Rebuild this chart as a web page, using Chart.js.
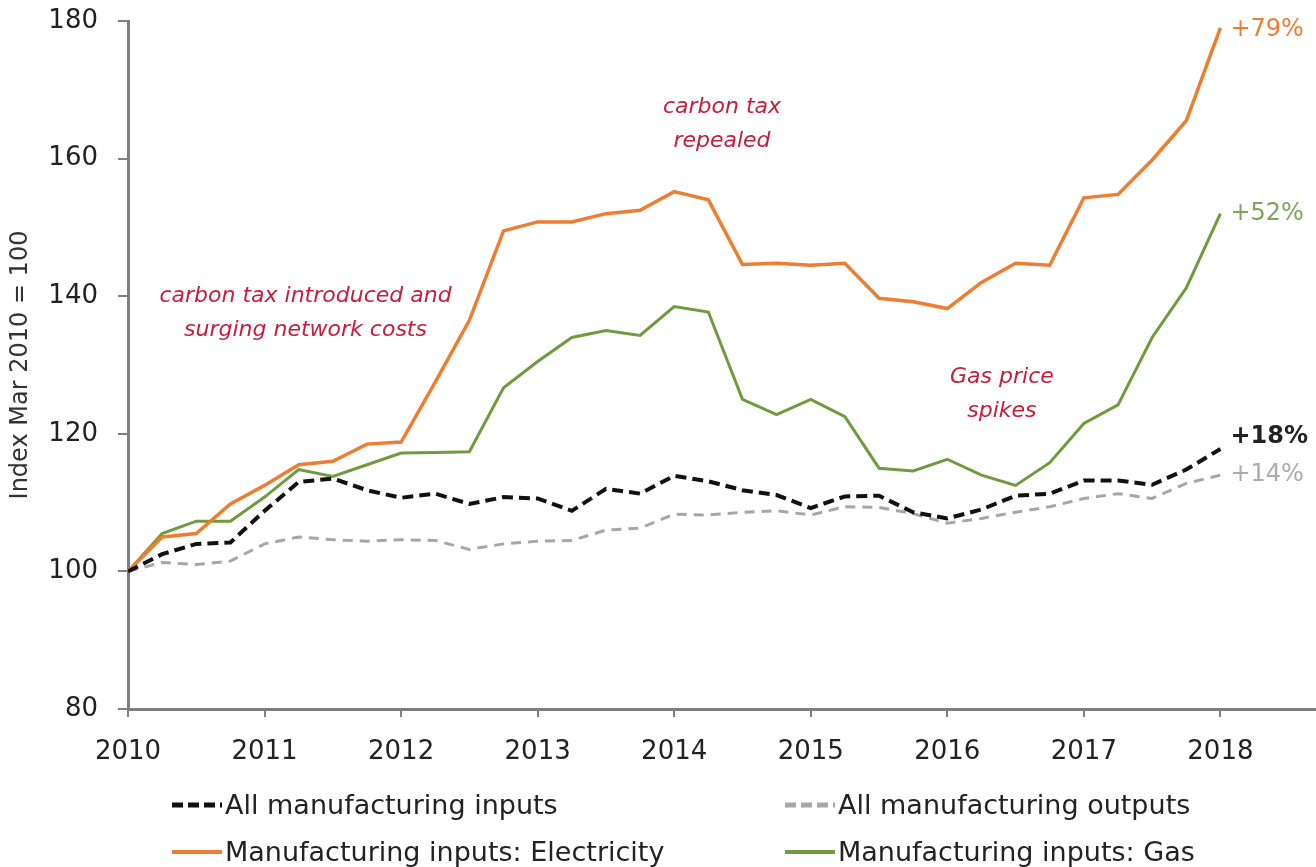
<!DOCTYPE html>
<html>
<head>
<meta charset="utf-8">
<script src="https://cdn.jsdelivr.net/npm/chart.js@4/dist/chart.umd.min.js"></script>
<style>
  html, body { margin: 0; padding: 0; background: #fff; }
  #wrap { position: relative; width: 1316px; height: 867px; }
  #legend {
    position: absolute; left: 172px; top: 781px;
    display: grid; grid-template-columns: 613px 520px; grid-auto-rows: 47px;
    font-family: "DejaVu Sans", sans-serif; font-size: 27px; color: #222;
  }
  #legend .item { display: flex; align-items: center; white-space: nowrap; }
  #legend svg { margin-right: 3px; }
</style>
</head>
<body>
<div id="wrap">
  <canvas id="myChart" width="1316" height="867"></canvas>
  <div id="legend"></div>
</div>
<script>
// quarterly, Mar 2010 .. Mar 2018
var quarters = [2010, 2010.25, 2010.5, 2010.75, 2011, 2011.25, 2011.5, 2011.75,
    2012, 2012.25, 2012.5, 2012.75, 2013, 2013.25, 2013.5, 2013.75,
    2014, 2014.25, 2014.5, 2014.75, 2015, 2015.25, 2015.5, 2015.75,
    2016, 2016.25, 2016.5, 2016.75, 2017, 2017.25, 2017.5, 2017.75, 2018];

var allInputs = [100, 102.5, 104, 104.2, 108.8, 113, 113.5, 111.8, 110.7, 111.3, 109.8, 110.8,
    110.6, 108.8, 112, 111.3, 113.9, 113.1, 111.8, 111.1, 109.2, 110.9, 111, 108.6,
    107.7, 109, 111, 111.3, 113.2, 113.2, 112.6, 114.8, 117.8];
var allOutputs = [100, 101.3, 101, 101.5, 104, 105, 104.6, 104.4, 104.6, 104.5, 103.2, 104,
    104.4, 104.5, 106, 106.3, 108.3, 108.2, 108.6, 108.8, 108.2, 109.4, 109.3, 108.4,
    107, 107.7, 108.6, 109.4, 110.6, 111.3, 110.6, 112.8, 114];
var electricity = [100, 105, 105.5, 109.8, 112.5, 115.5, 116, 118.5, 118.8, 127.5, 136.5, 149.5,
    150.8, 150.8, 152, 152.5, 155.2, 154, 144.6, 144.8, 144.5, 144.8, 139.7, 139.2,
    138.2, 142, 144.8, 144.5, 154.3, 154.8, 159.8, 165.5, 179];
var gas = [100, 105.5, 107.3, 107.3, 110.8, 114.8, 113.8, 115.5, 117.2, 117.3, 117.4, 126.7,
    130.5, 134, 135, 134.3, 138.5, 137.7, 125, 122.8, 125, 122.5, 115, 114.6,
    116.3, 114, 112.5, 115.8, 121.5, 124.2, 134, 141.2, 152];

var years = [2010, 2011, 2012, 2013, 2014, 2015, 2016, 2017, 2018];
var yTicks = [80, 100, 120, 140, 160, 180];
var endLabels = ["+18%", "+14%", "+79%", "+52%"];

var notes = [
    { x: 2011.3, y: 140, lines: ["carbon tax introduced and", "surging network costs"] },
    { x: 2014.35, y: 167.4, lines: ["carbon tax", "repealed"] },
    { x: 2016.4, y: 128.2, lines: ["Gas price", "spikes"] }
];

var FONT = "'DejaVu Sans', sans-serif";

var notesPlugin = {
    id: "notes",
    afterDatasetsDraw: function (chart) {
        var ctx = chart.ctx, xs = chart.scales.x, ys = chart.scales.y;
        ctx.save();
        ctx.font = "italic 22px " + FONT;
        ctx.fillStyle = "#c41e3a";
        ctx.textAlign = "center";
        ctx.textBaseline = "middle";
        notes.forEach(function (n) {
            var px = xs.getPixelForValue(n.x), py = ys.getPixelForValue(n.y);
            n.lines.forEach(function (l, i) { ctx.fillText(l, px, py + i * 34); });
        });
        // end of series labels
        chart.data.datasets.forEach(function (ds, i) {
            var meta = chart.getDatasetMeta(i);
            var pt = meta.data[meta.data.length - 1];
            ctx.font = (ds.endBold ? "bold " : "") + "24px " + FONT;
            ctx.fillStyle = ds.endColor;
            ctx.textAlign = "left";
            ctx.fillText(endLabels[i], pt.x + 10, pt.y + ds.endDy);
        });
        ctx.restore();
    }
};

var chart = new Chart(document.getElementById("myChart"), {
    type: "line",
    data: {
        labels: quarters,
        datasets: [{
            label: "All manufacturing inputs",
            data: allInputs,
            borderColor: "#111",
            borderWidth: 4,
            borderDash: [11, 6],
            endColor: "#222", endBold: true, endDy: -12
        }, {
            label: "All manufacturing outputs",
            data: allOutputs,
            borderColor: "#a6a6a6",
            borderWidth: 3,
            borderDash: [10, 7],
            endColor: "#ababab", endDy: 0
        }, {
            label: "Manufacturing inputs: Electricity",
            data: electricity,
            borderColor: "#ed7d31",
            borderWidth: 3.5,
            endColor: "#ed7d31", endDy: 2
        }, {
            label: "Manufacturing inputs: Gas",
            data: gas,
            borderColor: "#6f9a3e",
            borderWidth: 3,
            endColor: "#7ea35a", endDy: 0
        }]
    },
    options: {
        responsive: false,
        animation: false,
        layout: { padding: { top: 21, right: 0, left: 0, bottom: 0 } },
        elements: { point: { radius: 0 }, line: { tension: 0 } },
        plugins: { legend: { display: false }, tooltip: { enabled: false } },
        scales: {
            x: {
                type: "linear",
                min: 2010,
                max: 2018.7,
                afterBuildTicks: function (s) {
                    s.ticks = years.map(function (v) { return { value: v }; });
                },
                afterFit: function (s) { s.height = 158; },
                ticks: {
                    padding: 20,
                    color: "#222",
                    font: { family: FONT, size: 26 },
                    callback: function (v) { return String(v); }
                },
                grid: { drawOnChartArea: false, tickLength: 8, color: "#7f7f7f", lineWidth: 2 },
                border: { color: "#7f7f7f", width: 3 }
            },
            y: {
                min: 80,
                max: 180,
                afterBuildTicks: function (s) {
                    s.ticks = yTicks.map(function (v) { return { value: v }; });
                },
                afterFit: function (s) {
                    s.width = 128;
                    s.paddingTop = 0;
                    s.paddingBottom = 0;
                },
                ticks: {
                    padding: 20,
                    color: "#222",
                    font: { family: FONT, size: 26 }
                },
                title: {
                    display: true,
                    text: "Index Mar 2010 = 100",
                    color: "#333",
                    font: { family: FONT, size: 24 },
                    padding: { top: 6, bottom: 0 }
                },
                grid: { drawOnChartArea: false, tickLength: 10, color: "#7f7f7f", lineWidth: 2 },
                border: { color: "#7f7f7f", width: 3 }
            }
        }
    },
    plugins: [notesPlugin]
});

// html legend in two columns
var legend = document.getElementById("legend");
chart.data.datasets.forEach(function (ds) {
    var item = document.createElement("div");
    item.className = "item";
    var dash = ds.borderDash ? ' stroke-dasharray="11 5"' : "";
    item.innerHTML = '<svg width="50" height="10"><line x1="0" y1="5" x2="50" y2="5" stroke="' +
        ds.borderColor + '" stroke-width="' + (ds.borderDash ? 5 : 4) + '"' + dash + '/></svg>' +
        '<span>' + ds.label + '</span>';
    legend.appendChild(item);
});
</script>
</body>
</html>
